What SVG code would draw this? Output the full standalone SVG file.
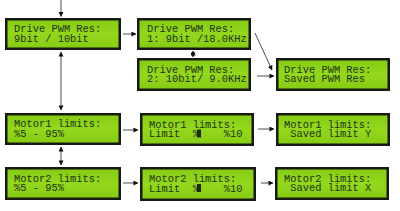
<svg xmlns="http://www.w3.org/2000/svg" width="400" height="211" viewBox="0 0 400 211">
<defs>
<marker id="ah" viewBox="0 0 6 6" refX="5.5" refY="3" markerWidth="5" markerHeight="5" orient="auto-start-reverse" markerUnits="userSpaceOnUse">
<path d="M0,0 L6,3 L0,6 z" fill="#111"/>
</marker>
<linearGradient id="lcd" x1="0" y1="0" x2="0" y2="1">
<stop offset="0" stop-color="#86cc14"/>
<stop offset="0.5" stop-color="#94d81e"/>
<stop offset="1" stop-color="#86cc14"/>
</linearGradient>
</defs>
<style>
.frame{fill:#161a12}
.screen{fill:url(#lcd)}
.t{font-family:"Liberation Mono","DejaVu Sans Mono",monospace;font-size:10.4px;fill:#22340e;white-space:pre}
.c{stroke:#222;stroke-width:0.8;fill:none}
</style>
<rect width="400" height="211" fill="#ffffff"/>
<g id="connectors">
<line class="c" x1="61" y1="0" x2="61" y2="16.5" marker-end="url(#ah)"/>
<line class="c" x1="61" y1="52" x2="61" y2="110" marker-start="url(#ah)" marker-end="url(#ah)"/>
<line class="c" x1="61" y1="147" x2="61" y2="165" marker-start="url(#ah)" marker-end="url(#ah)"/>
<line class="c" x1="193" y1="51" x2="193" y2="57" marker-start="url(#ah)" marker-end="url(#ah)"/>
<line class="c" x1="123" y1="34" x2="136" y2="34" marker-end="url(#ah)"/>
<line class="c" x1="255" y1="33" x2="272" y2="70" marker-end="url(#ah)"/>
<line class="c" x1="257" y1="76" x2="274" y2="76" marker-end="url(#ah)"/>
<line class="c" x1="123" y1="130" x2="138" y2="130" marker-end="url(#ah)"/>
<line class="c" x1="123" y1="183" x2="138" y2="183" marker-end="url(#ah)"/>
<line class="c" x1="258" y1="129" x2="274" y2="129" marker-end="url(#ah)"/>
<line class="c" x1="261" y1="183" x2="273" y2="183" marker-end="url(#ah)"/>
</g>
<g id="drivePwmRes">
<rect class="frame" x="5" y="18" width="116" height="32"/>
<rect class="screen" x="7.5" y="20.5" width="111" height="27"/>
<text class="t" x="14" y="32.3">Drive PWM Res:</text>
<text class="t" x="14" y="41.8">9bit / 10bit</text>
</g>
<g id="pwm9bit">
<rect class="frame" x="137" y="18" width="114" height="32"/>
<rect class="screen" x="139.5" y="20.5" width="109" height="27"/>
<text class="t" x="147" y="32.3">Drive PWM Res:</text>
<text class="t" x="147" y="41.8">1: 9bit /18.0KHz</text>
</g>
<g id="pwm10bit">
<rect class="frame" x="137" y="58" width="114" height="33"/>
<rect class="screen" x="139.5" y="60.5" width="109" height="28"/>
<text class="t" x="147" y="72.5">Drive PWM Res:</text>
<text class="t" x="147" y="82">2: 10bit/ 9.0KHz</text>
</g>
<g id="savedPwm">
<rect class="frame" x="276" y="58" width="114" height="33"/>
<rect class="screen" x="278.5" y="60.5" width="109" height="28"/>
<text class="t" x="284" y="72.5">Drive PWM Res:</text>
<text class="t" x="284" y="82">Saved PWM Res</text>
</g>
<g id="motor1">
<rect class="frame" x="5" y="113" width="116" height="32"/>
<rect class="screen" x="7.5" y="115.5" width="111" height="27"/>
<text class="t" x="14" y="127.3">Motor1 limits:</text>
<text class="t" x="14" y="136.8">%5 - 95%</text>
</g>
<g id="motor1Limit">
<rect class="frame" x="140" y="113" width="114" height="33"/>
<rect class="screen" x="142.5" y="115.5" width="109" height="28"/>
<text class="t" x="149" y="127.5">Motor1 limits:</text>
<text class="t" x="149" y="137">Limit  %    %10</text>
<rect x="197" y="129.5" width="4" height="8" fill="#1c2a0c"/>
</g>
<g id="motor1Saved">
<rect class="frame" x="276" y="113" width="114" height="33"/>
<rect class="screen" x="278.5" y="115.5" width="109" height="28"/>
<text class="t" x="284" y="127.5">Motor1 limits:</text>
<text class="t" x="284" y="137"> Saved limit Y</text>
</g>
<g id="motor2">
<rect class="frame" x="5" y="167" width="116" height="33"/>
<rect class="screen" x="7.5" y="169.5" width="111" height="28"/>
<text class="t" x="14" y="181.5">Motor2 limits:</text>
<text class="t" x="14" y="191">%5 - 95%</text>
</g>
<g id="motor2Limit">
<rect class="frame" x="140" y="167" width="116" height="34"/>
<rect class="screen" x="142.5" y="169.5" width="111" height="29"/>
<text class="t" x="149" y="182">Motor2 limits:</text>
<text class="t" x="149" y="191.5">Limit  %    %10</text>
<rect x="197" y="184" width="4" height="8" fill="#1c2a0c"/>
</g>
<g id="motor2Saved">
<rect class="frame" x="275" y="167" width="114" height="33"/>
<rect class="screen" x="277.5" y="169.5" width="109" height="28"/>
<text class="t" x="284" y="181.5">Motor2 limits:</text>
<text class="t" x="284" y="191"> Saved limit X</text>
</g>
</svg>
